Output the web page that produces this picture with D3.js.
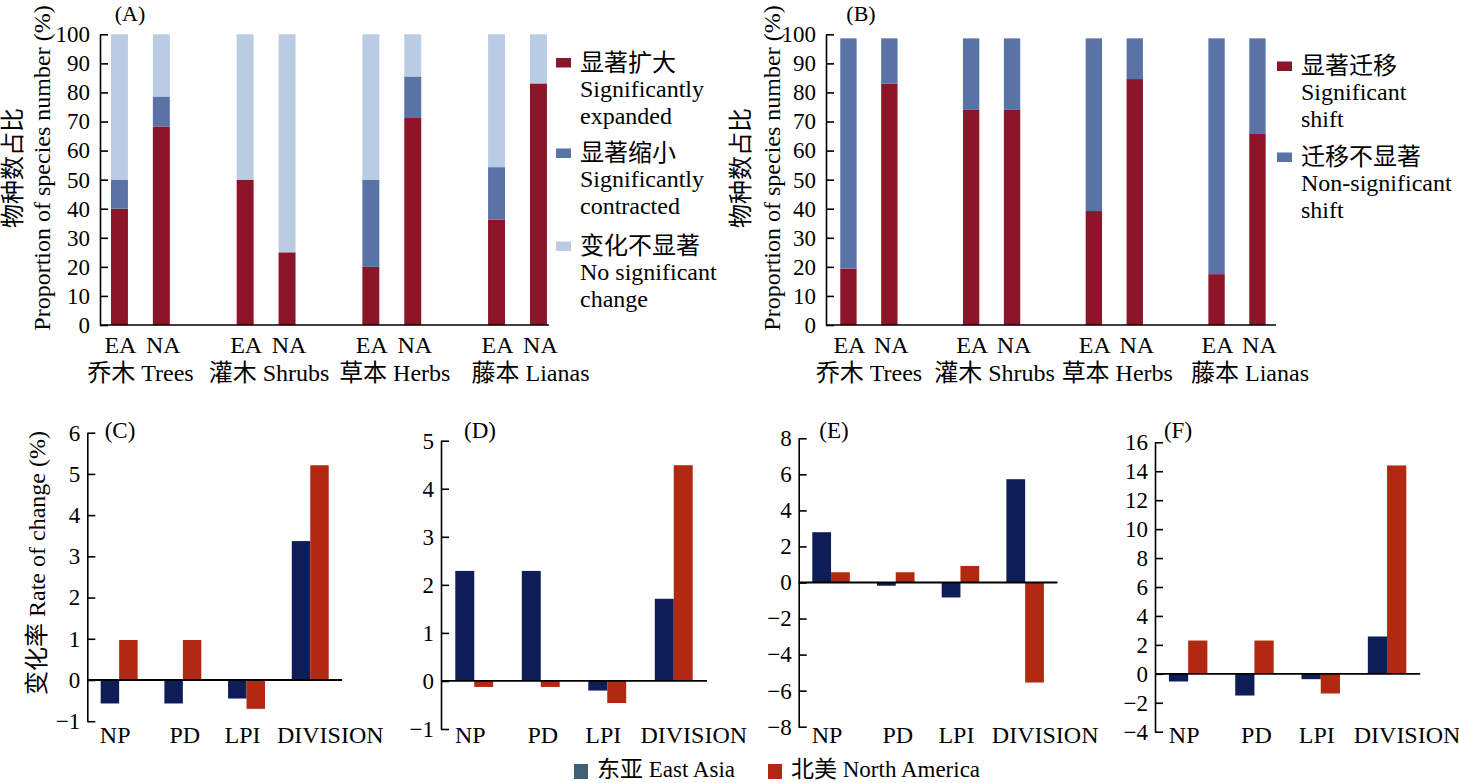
<!DOCTYPE html>
<html>
<head>
<meta charset="utf-8">
<script src="https://cdn.jsdelivr.net/npm/d3@7"></script>
<style>
  html, body { margin: 0; padding: 0; background: #fff; }
  svg text { font-family: "Liberation Serif", "Noto Sans CJK SC", serif; fill: #000; }
</style>
</head>
<body>
<svg id="chart" width="1459" height="783"></svg>
<script>
// ---------------- DATA ----------------
const groupsTop = ["乔木 Trees", "灌木 Shrubs", "草本 Herbs", "藤本 Lianas"];
const regions = ["EA", "NA"];
// order: Trees EA, Trees NA, Shrubs EA, Shrubs NA, Herbs EA, Herbs NA, Lianas EA, Lianas NA
const aExpanded   = [40, 68.3, 50, 25, 20, 71.2, 36.2, 83.1];
const aContracted = [10, 10.3, 0, 0, 30, 14.3, 18.1, 0];
const aNoChange   = [50, 21.4, 50, 75, 50, 14.5, 45.7, 16.9];
const bSigShift    = [19.4, 83.0, 74.0, 74.0, 39.2, 84.6, 17.5, 65.7];
const bNonSigShift = [79.2, 15.6, 24.6, 24.6, 59.4, 14.0, 81.1, 32.9];
const topTicks = [0, 10, 20, 30, 40, 50, 60, 70, 80, 90, 100];

const metrics = ["NP", "PD", "LPI", "DIVISION"];
const cEA = [-0.57, -0.57, -0.45, 3.37];
const cNA = [0.97, 0.97, -0.70, 5.21];
const dEA = [2.29, 2.29, -0.20, 1.71];
const dNA = [-0.125, -0.125, -0.46, 4.49];
const eEA = [2.79, -0.18, -0.83, 5.73];
const eNA = [0.57, 0.57, 0.92, -5.55];
const fEA = [-0.53, -1.50, -0.37, 2.58];
const fNA = [2.30, 2.30, -1.36, 14.4];
const cTicks = [-1, 0, 1, 2, 3, 4, 5, 6];
const dTicks = [-1, 0, 1, 2, 3, 4, 5];
const eTicks = [-8, -6, -4, -2, 0, 2, 4, 6, 8];
const fTicks = [-4, -2, 0, 2, 4, 6, 8, 10, 12, 14, 16];

const legendA = [
  ["显著扩大", "Significantly", "expanded"],
  ["显著缩小", "Significantly", "contracted"],
  ["变化不显著", "No significant", "change"]
];
const legendB = [
  ["显著迁移", "Significant", "shift"],
  ["迁移不显著", "Non-significant", "shift"]
];
const legendBottom = ["东亚 East Asia", "北美 North America"];

// ---------------- STYLE ----------------
const colA = ["#8c1529", "#5a73a7", "#bacce3"];
const colB = ["#8c1529", "#5a73a7"];
const colEA = "#0e1d56", colNA = "#b22911";
const colLegEA = "#3e6272";
const fmt = v => (v < 0 ? "\u2212" + Math.abs(v) : String(v));

const svg = d3.select("#chart");

// ---------------- STACKED PANELS (A, B) ----------------
function drawStacked(o) {
  const g = svg.append("g");
  const y = d3.scaleLinear().domain([0, 100]).range([325, 34.3]);
  const xg = d3.scaleBand().domain(groupsTop).range([o.x0, o.x0 + 4 * o.step]);
  const xi = d3.scaleBand().domain(["EA", "NA", "_"]).range([0, o.step]).paddingInner(o.pad).paddingOuter(o.pad / 2);
  const rows = [];
  groupsTop.forEach((gname, gi) => regions.forEach((r, ri) => {
    const k = gi * 2 + ri;
    const row = { group: gname, region: r };
    o.keys.forEach((key, si) => row[key] = o.series[si][k]);
    rows.push(row);
  }));
  const stacked = d3.stack().keys(o.keys)(rows);
  stacked.forEach((layer, li) => {
    g.selectAll(null).data(layer).join("rect")
      .attr("x", d => xg(d.data.group) + xi(d.data.region))
      .attr("width", xi.bandwidth())
      .attr("y", d => y(d[1]))
      .attr("height", d => y(d[0]) - y(d[1]))
      .attr("fill", o.colors[li]);
  });
  // y axis
  const ax = g.append("g").attr("transform", `translate(${o.axisX},0)`)
    .call(d3.axisLeft(y).tickValues(topTicks).tickSizeInner(-8).tickSizeOuter(0).tickPadding(10));
  ax.selectAll("path,line").attr("stroke", "#000").attr("stroke-width", 1.6);
  ax.selectAll("text").attr("font-size", 23).attr("font-family", "Liberation Serif").attr("fill", "#000");
  // x axis line
  g.append("line").attr("x1", o.axisX).attr("x2", o.xEnd).attr("y1", y(0)).attr("y2", y(0))
    .attr("stroke", "#000").attr("stroke-width", 1.6);
  // region labels
  g.selectAll(null).data(rows).join("text")
    .attr("x", d => xg(d.group) + xi(d.region) + xi.bandwidth() / 2 + (d.region === "NA" ? 2 : 1))
    .attr("y", 353).attr("text-anchor", "middle").attr("font-size", 24).text(d => d.region);
  // group labels
  const gdx = [0, 3, 3, 13];
  g.selectAll(null).data(groupsTop).join("text")
    .attr("x", (d, i) => xg(d) + (xi("EA") + xi("NA") + xi.bandwidth()) / 2 + gdx[i])
    .attr("y", 381).attr("text-anchor", "middle").attr("font-size", 24).text(d => d);
  // y label
  const yl = g.append("g").attr("transform", `translate(0,168) rotate(-90)`);
  yl.append("text").attr("x", 0).attr("y", o.ylabX1).attr("text-anchor", "middle")
    .attr("dominant-baseline", "central").attr("font-size", 24).text("物种数占比");
  yl.append("text").attr("x", 0).attr("y", o.ylabX2).attr("text-anchor", "middle")
    .attr("dominant-baseline", "central").attr("font-size", 24).text("Proportion of species number (%)");
  // panel label
  g.append("text").attr("x", o.tagX).attr("y", 21).attr("text-anchor", "middle").attr("font-size", 22).text(o.tag);
  // legend
  o.legend.forEach((lines, li) => {
    const cy = o.legY[li];
    g.append("rect").attr("x", o.legX).attr("y", cy - 4.5).attr("width", 15).attr("height", 9.5).attr("fill", o.colors[li]);
    g.append("text").attr("x", o.legX + 24).attr("y", cy).attr("dominant-baseline", "central")
      .attr("font-size", 24).text(lines[0]);
    g.append("text").attr("x", o.legX + 24).attr("y", cy + 34).attr("font-size", 24).text(lines[1]);
    g.append("text").attr("x", o.legX + 24).attr("y", cy + 61).attr("font-size", 24).text(lines[2]);
  });
}

drawStacked({
  x0: 98.5, step: 125.7, pad: 0.595, axisX: 100, xEnd: 549,
  keys: ["exp", "con", "non"], series: [aExpanded, aContracted, aNoChange], colors: colA,
  ylabX1: 13, ylabX2: 42, tag: "(A)", tagX: 130,
  legend: legendA, legX: 556, legY: [62.5, 153, 246]
});
drawStacked({
  x0: 828, step: 122.7, pad: 0.6, axisX: 826, xEnd: 1276,
  keys: ["sig", "non"], series: [bSigShift, bNonSigShift], colors: colB,
  ylabX1: 741, ylabX2: 772, tag: "(B)", tagX: 861,
  legend: legendB, legX: 1277, legY: [66, 157]
});

// ---------------- GROUPED PANELS (C-F) ----------------
function drawGrouped(o) {
  const g = svg.append("g");
  const y = d3.scaleLinear().domain(o.domain).range([o.yBottom, o.yTop]);
  const xg = d3.scaleBand().domain(metrics).range([o.axisX, o.axisX + 4 * o.step])
    .paddingInner(o.pad).paddingOuter(o.pad / 2);
  const xi = d3.scaleBand().domain(regions).range([0, xg.bandwidth()]);
  const rows = [];
  metrics.forEach((m, i) => {
    rows.push({ m, r: "EA", v: o.ea[i] });
    rows.push({ m, r: "NA", v: o.na[i] });
  });
  g.selectAll(null).data(rows).join("rect")
    .attr("x", d => xg(d.m) + xi(d.r))
    .attr("width", xi.bandwidth())
    .attr("y", d => y(Math.max(0, d.v)))
    .attr("height", d => Math.abs(y(d.v) - y(0)))
    .attr("fill", d => d.r === "EA" ? colEA : colNA);
  const ax = g.append("g").attr("transform", `translate(${o.axisX},0)`)
    .call(d3.axisLeft(y).tickValues(o.ticks).tickFormat(fmt).tickSizeInner(-8).tickSizeOuter(0).tickPadding(7));
  ax.selectAll("path,line").attr("stroke", "#000").attr("stroke-width", 1.6);
  ax.selectAll("text").attr("font-size", 23).attr("font-family", "Liberation Serif").attr("fill", "#000");
  // zero line
  g.append("line").attr("x1", o.axisX).attr("x2", o.axisX + 4 * o.step).attr("y1", y(0)).attr("y2", y(0))
    .attr("stroke", "#000").attr("stroke-width", 1.8);
  // category labels
  const mdx = [-4, 2, -4, 20];
  g.selectAll(null).data(metrics).join("text")
    .attr("x", (d, i) => xg(d) + xg.bandwidth() / 2 + mdx[i])
    .attr("y", 743).attr("text-anchor", "middle").attr("font-size", 24).text(d => d);
  g.append("text").attr("x", o.tagX).attr("y", 438).attr("text-anchor", "middle").attr("font-size", 23).text(o.tag);
}

drawGrouped({ domain: [-1, 6], yTop: 432.7, yBottom: 721.2, axisX: 87.3, step: 63.7, pad: 0.42,
  ea: cEA, na: cNA, ticks: cTicks, tag: "(C)", tagX: 120 });
drawGrouped({ domain: [-1, 5], yTop: 440.7, yBottom: 729, axisX: 441, step: 66.5, pad: 0.43,
  ea: dEA, na: dNA, ticks: dTicks, tag: "(D)", tagX: 480 });
drawGrouped({ domain: [-8, 8], yTop: 438.3, yBottom: 726.7, axisX: 798.7, step: 64.7, pad: 0.42,
  ea: eEA, na: eNA, ticks: eTicks, tag: "(E)", tagX: 834 });
drawGrouped({ domain: [-4, 16], yTop: 442.3, yBottom: 731.7, axisX: 1155, step: 66.3, pad: 0.42,
  ea: fEA, na: fNA, ticks: fTicks, tag: "(F)", tagX: 1178 });

// bottom y label
svg.append("text").attr("transform", "translate(37,563) rotate(-90)")
  .attr("text-anchor", "middle").attr("dominant-baseline", "central").attr("font-size", 24)
  .text("变化率 Rate of change (%)");

// bottom legend
const legX = [574, 768];
const legCol = [colLegEA, colNA];
legendBottom.forEach((t, i) => {
  svg.append("rect").attr("x", legX[i]).attr("y", 764).attr("width", 14).attr("height", 15).attr("fill", legCol[i]);
  svg.append("text").attr("x", legX[i] + 23).attr("y", 769).attr("dominant-baseline", "central")
    .attr("font-size", 23).text(t);
});
</script>
</body>
</html>
